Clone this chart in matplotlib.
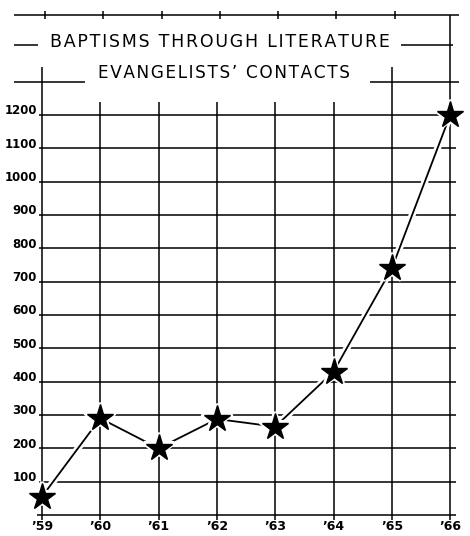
import matplotlib.pyplot as plt

# data
years = ["'59", "'60", "'61", "'62", "'63", "'64", "'65", "'66"]
baptisms = [55, 290, 200, 288, 265, 430, 740, 1200]
y_ticks = [100, 200, 300, 400, 500, 600, 700, 800, 900, 1000, 1100, 1200]

title1 = "BAPTISMS THROUGH LITERATURE"
title2 = "EVANGELISTS\u2019 CONTACTS"


def spaced(s):
    # typewriter-like letter spacing
    return "\u200a".join(s)


fig = plt.figure(figsize=(4.7, 5.36), dpi=100)
ax = fig.add_axes([0, 0, 1, 1])
ax.set_xlim(-0.72, 7.34)
ax.set_ylim(-63, 1545)
ax.axis('off')

xs = list(range(len(years)))
lw = 1.1

# horizontal grid
ax.hlines(y_ticks, -0.05, 7.1, color='black', lw=lw)
ax.hlines(0, -0.08, 7.1, color='black', lw=lw)

# vertical grid
for i in xs:
    top = 1240
    if i == 0 or i == 6:
        top = 1345
    if i == 7:
        top = 1500
    ax.vlines(i, -15, top, color='black', lw=lw)

# top border with ticks
ax.hlines(1500, -0.48, 7.15, color='black', lw=lw)
for i in range(7):
    ax.vlines(i + 0.05, 1487, 1512, color='black', lw=lw)

# title rows with rules
ax.hlines(1410, -0.48, -0.07, color='black', lw=lw)
ax.hlines(1410, 6.15, 7.05, color='black', lw=lw)
ax.hlines(1300, -0.48, 0.74, color='black', lw=lw)
ax.hlines(1300, 5.63, 7.15, color='black', lw=lw)
ax.text(3.06, 1418, spaced(title1), ha='center', va='center', fontsize=12.5)
ax.text(3.12, 1327, spaced(title2), ha='center', va='center', fontsize=12.2)

# tick labels
for v in y_ticks:
    ax.text(-0.09, v + 12, str(v), ha='right', va='center',
            fontsize=8.5, fontweight='bold')
for i, lab in zip(xs, years):
    ax.text(i, -36, lab.replace("'", "\u2019"), ha='center', va='center',
            fontsize=9, fontweight='bold')

# data line with white halo to break the grid
ax.plot(xs, baptisms, color='white', lw=5, solid_capstyle='butt', zorder=3)
ax.plot(xs, baptisms, color='black', lw=1.3, zorder=4)
ax.plot(xs, baptisms, linestyle='none', marker='*', ms=22, color='black',
        markeredgecolor='white', markeredgewidth=3, zorder=5)
ax.plot(xs, baptisms, linestyle='none', marker='*', ms=20, color='black',
        zorder=6)

fig.savefig('out.png', dpi=100, facecolor='white')
